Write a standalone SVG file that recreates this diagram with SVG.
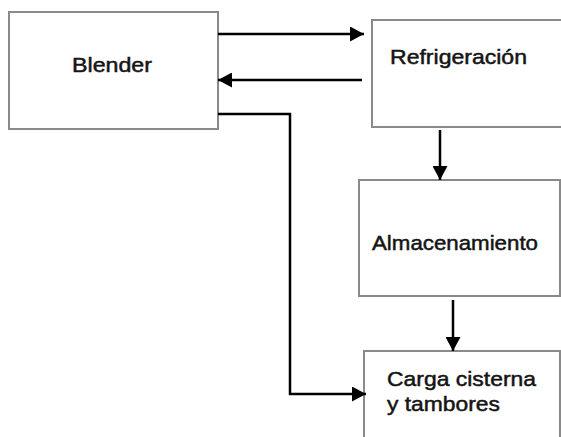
<svg xmlns="http://www.w3.org/2000/svg" width="561" height="437" viewBox="0 0 561 437">
  <style>
    .box { fill: #ffffff; stroke: #8a8a8a; stroke-width: 2; }
    .label { font-family: "Liberation Sans", Arial, sans-serif; font-size: 21px; fill: #141414; stroke: #141414; stroke-width: 0.5; }
    .wire { fill: none; stroke: #000000; stroke-width: 2.5; }
  </style>
  <defs>
    <marker id="head" viewBox="0 0 14 15" refX="14" refY="7.5" markerWidth="14" markerHeight="15" markerUnits="userSpaceOnUse" orient="auto">
      <path d="M0,0 L14,7.5 L0,15 Z" fill="#000000"/>
    </marker>
  </defs>
  <rect width="561" height="437" fill="#ffffff"/>

  <g id="blender">
    <rect class="box" x="9" y="12" width="209" height="117"/>
    <text class="label" x="72" y="72" textLength="80" lengthAdjust="spacingAndGlyphs">Blender</text>
  </g>

  <g id="refrigeracion">
    <rect class="box" x="372" y="20" width="200" height="107"/>
    <text class="label" x="390" y="64" textLength="137" lengthAdjust="spacingAndGlyphs">Refrigeración</text>
  </g>

  <g id="almacenamiento">
    <rect class="box" x="359" y="180" width="201" height="116"/>
    <text class="label" x="372" y="250" textLength="166" lengthAdjust="spacingAndGlyphs">Almacenamiento</text>
  </g>

  <g id="carga">
    <rect class="box" x="364" y="351" width="196" height="100"/>
    <text class="label" x="387" y="386" textLength="149" lengthAdjust="spacingAndGlyphs">Carga cisterna</text>
    <text class="label" x="387" y="411" textLength="113" lengthAdjust="spacingAndGlyphs">y tambores</text>
  </g>

  <g id="connectors">
    <path class="wire" d="M218,34 H364" marker-end="url(#head)"/>
    <path class="wire" d="M362,80 H218" marker-end="url(#head)"/>
    <path class="wire" d="M218,114 H290 V394 H366" marker-end="url(#head)"/>
    <path class="wire" d="M440,130 V180" marker-end="url(#head)"/>
    <path class="wire" d="M453,300 V351" marker-end="url(#head)"/>
  </g>
</svg>
